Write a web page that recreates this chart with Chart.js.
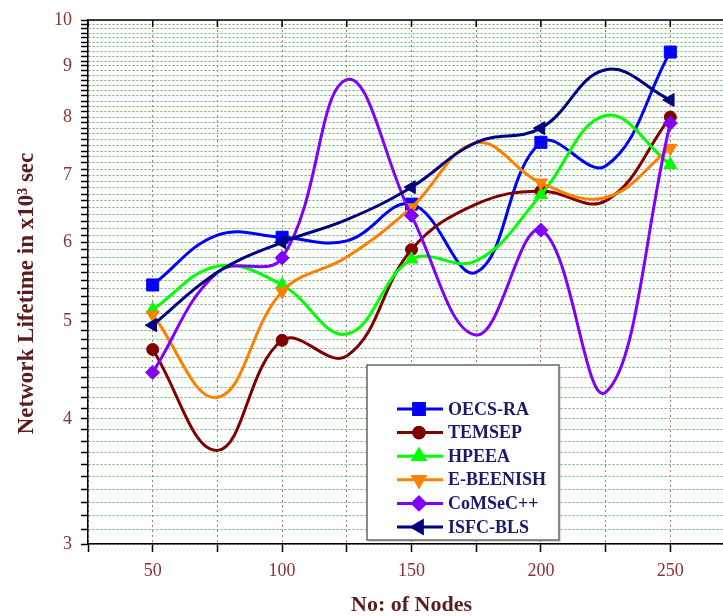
<!DOCTYPE html>
<html lang="en">
<head>
<meta charset="UTF-8">
<title>Network Lifetime vs Nodes</title>
<script src="https://cdn.jsdelivr.net/npm/chart.js"></script>
<style>
    html, body { margin: 0; padding: 0; overflow: hidden; background: #fff; }
    .graph-container { position: relative; width: 745px; height: 616px; }
</style>
</head>
<body>
<div class="graph-container">
    <canvas id="lifetime"></canvas>
</div>
<script>
    // node counts (markers drawn only at multiples of 50)
    const nodes = [50, 75, 100, 125, 150, 175, 200, 225, 250];
    const xLabels = [50, 100, 150, 200, 250];
    const yLabels = [3, 4, 5, 6, 7, 8, 9, 10];

    // network lifetime in x10^3 sec
    const oecsRa   = [5.44, 6.10, 6.07, 6.02, 6.55, 5.60, 7.55, 7.15, 9.29];
    const temsep   = [4.69, 3.72, 4.79, 4.62, 5.90, 6.55, 6.75, 6.60, 8.00];
    const hpeea    = [5.14, 5.68, 5.44, 4.86, 5.77, 5.75, 6.69, 8.03, 7.17];
    const eBeenish = [5.08, 4.20, 5.36, 5.80, 6.50, 7.54, 6.88, 6.65, 7.45];
    const comsec   = [4.45, 5.60, 5.79, 8.72, 6.38, 4.85, 6.17, 4.25, 7.89];
    const isfcBls  = [4.96, 5.60, 6.00, 6.32, 6.81, 7.55, 7.80, 8.92, 8.32];

    const series = [
        { label: 'OECS-RA',   values: oecsRa,   color: '#0000ff', style: 'rect',     rotation: 0,   radius: 8.5 },
        { label: 'TEMSEP',    values: temsep,   color: '#800000', style: 'circle',   rotation: 0,   radius: 6 },
        { label: 'HPEEA',     values: hpeea,    color: '#00ff00', style: 'triangle', rotation: 0,   radius: 7.5 },
        { label: 'E-BEENISH', values: eBeenish, color: '#ff8000', style: 'triangle', rotation: 180, radius: 7.5 },
        { label: 'CoMSeC++',  values: comsec,   color: '#8000ff', style: 'rectRot',  rotation: 0,   radius: 7 },
        { label: 'ISFC-BLS',  values: isfcBls,  color: '#000080', style: 'triangle', rotation: -90, radius: 7.5 }
    ];

    const serif = "'Liberation Serif', 'Times New Roman', serif";
    const tickRed = '#8b3030';
    const titleRed = '#5a1c1c';

    // legend box inside the plot, plus top frame line with inward ticks
    const framePlugin = {
        id: 'framePlugin',
        afterDraw(chart) {
            const ctx = chart.ctx;
            const area = chart.chartArea;
            const xs = chart.scales.x;
            ctx.save();
            ctx.strokeStyle = '#000';
            ctx.lineWidth = 1.5;
            ctx.beginPath();
            ctx.moveTo(area.left, area.top);
            ctx.lineTo(area.right, area.top);
            xs.ticks.forEach(t => {
                const px = xs.getPixelForValue(t.value);
                ctx.moveTo(px, area.top);
                ctx.lineTo(px, area.top + 7);
            });
            ctx.stroke();

            // legend
            const bx = area.left + 279, by = area.top + 345, bw = 192, bh = 175;
            ctx.fillStyle = 'rgba(0,0,0,0.15)';
            ctx.fillRect(bx + 2, by + 2, bw, bh);
            ctx.fillStyle = '#fff';
            ctx.fillRect(bx, by, bw, bh);
            ctx.strokeStyle = '#666';
            ctx.lineWidth = 1.5;
            ctx.strokeRect(bx, by, bw, bh);

            ctx.font = 'bold 18px ' + serif;
            ctx.textBaseline = 'middle';
            ctx.textAlign = 'left';
            series.forEach((s, i) => {
                const y = by + 44 + i * 23.6;
                ctx.strokeStyle = s.color;
                ctx.lineWidth = 3;
                ctx.beginPath();
                ctx.moveTo(bx + 30, y);
                ctx.lineTo(bx + 76, y);
                ctx.stroke();
                ctx.fillStyle = s.color;
                Chart.helpers.drawPoint(ctx, {
                    pointStyle: s.style,
                    rotation: s.rotation,
                    radius: s.radius * 0.9,
                    borderWidth: 1
                }, bx + 52, y);
                ctx.fill();
                ctx.fillStyle = '#1a1a6a';
                ctx.fillText(s.label, bx + 81, y + 1);
            });
            ctx.restore();
        }
    };

    const datasets = series.map((s, i) => ({
        label: s.label,
        data: nodes.map((n, j) => ({ x: n, y: s.values[j] })),
        borderColor: s.color,
        backgroundColor: s.color,
        borderWidth: 3,
        tension: 0.4,
        pointStyle: s.style,
        rotation: s.rotation,
        pointRadius: ctx => (nodes[ctx.dataIndex] % 50 === 0 ? s.radius : 0),
        pointBorderWidth: 1,
        order: series.length - i
    }));

    const ctx = document.getElementById('lifetime').getContext('2d');
    new Chart(ctx, {
        type: 'line',
        data: { datasets: datasets },
        options: {
            responsive: true,
            maintainAspectRatio: false,
            animation: false,
            layout: { padding: { left: 0, top: 20, right: 10, bottom: 0 } },
            plugins: {
                legend: { display: false },
                tooltip: { enabled: false }
            },
            scales: {
                x: {
                    type: 'linear',
                    position: 'bottom',
                    min: 25,
                    max: 275,
                    afterFit(scale) { scale.height = 72; },
                    ticks: {
                        stepSize: 25,
                        autoSkip: false,
                        maxRotation: 0,
                        padding: 8,
                        color: tickRed,
                        font: { family: serif, size: 18 },
                        callback: v => (xLabels.includes(v) ? String(v) : '')
                    },
                    grid: {
                        color: '#b87878',
                        lineWidth: 1,
                        tickLength: 8,
                        tickColor: '#000',
                        tickWidth: 1.5
                    },
                    border: { color: '#000', width: 1.5, dash: [2, 3] },
                    title: {
                        display: true,
                        text: 'No: of Nodes',
                        color: titleRed,
                        font: { family: serif, size: 22, weight: 'bold', lineHeight: 1 },
                        padding: 0
                    }
                },
                y: {
                    type: 'logarithmic',
                    min: 3,
                    max: 10,
                    afterFit(scale) { scale.width = 88; },
                    afterBuildTicks(scale) {
                        const t = [];
                        for (let k = 30; k <= 100; k++) t.push({ value: k / 10 });
                        scale.ticks = t;
                    },
                    ticks: {
                        autoSkip: false,
                        padding: 9,
                        color: tickRed,
                        font: { family: serif, size: 18 },
                        callback: v => {
                            const r = Math.round(v);
                            return Math.abs(v - r) < 1e-6 && yLabels.includes(r) ? String(r) : '';
                        }
                    },
                    grid: {
                        color: '#6cb46c',
                        lineWidth: 1,
                        tickLength: 7,
                        tickColor: '#000',
                        tickWidth: 1.5
                    },
                    border: { color: '#000', width: 1.5, dash: [2, 2] },
                    title: {
                        display: true,
                        text: 'Network Lifetime in x10\u00b3 sec    ',
                        color: titleRed,
                        font: { family: serif, size: 23, weight: 'bold' },
                        padding: { top: 13, bottom: 0 }
                    }
                }
            }
        },
        plugins: [framePlugin]
    });
</script>
</body>
</html>
